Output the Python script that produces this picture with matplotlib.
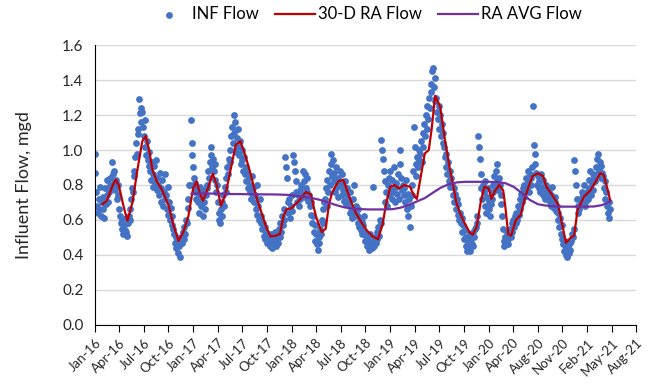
import pandas as pd
import matplotlib
matplotlib.use('Agg')
import matplotlib.pyplot as plt

plt.rcParams['font.family'] = ['Lato', 'DejaVu Sans']

start = pd.Timestamp('2016-01-01')

# influent flow, mgd (one reading every 3rd day, Jan 2016 - Apr 2021)
inf_flow = [
    0.98, 0.87, 0.76, 0.68, 0.64, 0.72, 0.66, 0.79, 0.62, 0.70,
    0.66, 0.73, 0.61, 0.78, 0.69, 0.74, 0.83, 0.70, 0.76, 0.80,
    0.84, 0.79, 0.93, 0.86, 0.81, 0.88, 0.77, 0.83, 0.72, 0.80,
    0.74, 0.66, 0.62, 0.58, 0.55, 0.60, 0.52, 0.57, 0.54, 0.61,
    0.53, 0.51, 0.58, 0.62, 0.66, 0.60, 0.72, 0.78, 0.76, 0.85,
    0.88, 0.96, 1.04, 0.98, 1.12, 1.09, 1.29, 1.21, 1.16, 1.24,
    1.22, 1.13, 1.08, 1.17, 1.02, 0.97, 1.05, 0.94, 0.99, 0.91,
    0.88, 0.83, 0.93, 0.79, 0.86, 0.91, 0.81, 0.94, 0.77, 0.84,
    0.80, 0.74, 0.87, 0.70, 0.78, 0.83, 0.68, 0.76, 0.86, 0.72,
    0.74, 0.66, 0.79, 0.63, 0.70, 0.60, 0.67, 0.57, 0.62, 0.55,
    0.52, 0.47, 0.50, 0.44, 0.48, 0.41, 0.45, 0.39, 0.46, 0.50,
    0.47, 0.53, 0.49, 0.56, 0.52, 0.60, 0.58, 0.67, 0.72, 0.80,
    0.80, 1.17, 1.04, 0.97, 0.90, 0.84, 0.76, 0.81, 0.72, 0.78,
    0.70, 0.75, 0.64, 0.79, 0.68, 0.73, 0.62, 0.77, 0.70, 0.66,
    0.74, 0.80, 0.78, 0.88, 0.84, 0.93, 0.97, 1.02, 0.90, 0.95,
    0.88, 0.92, 0.83, 0.76, 0.80, 0.70, 0.64, 0.60, 0.58, 0.66,
    0.62, 0.70, 0.74, 0.68, 0.79, 0.84, 0.76, 0.90, 0.86, 0.95,
    1.00, 0.93, 1.08, 1.13, 1.04, 1.20, 1.10, 1.16, 0.99, 1.07,
    1.12, 1.02, 0.97, 1.05, 0.92, 1.00, 0.94, 0.88, 0.96, 0.86,
    0.90, 0.82, 0.87, 0.78, 0.84, 0.76, 0.80, 0.72, 0.85, 0.74,
    0.78, 0.70, 0.74, 0.66, 0.80, 0.63, 0.68, 0.60, 0.72, 0.58,
    0.62, 0.55, 0.58, 0.51, 0.56, 0.49, 0.53, 0.47, 0.50, 0.46,
    0.48, 0.45, 0.52, 0.44, 0.47, 0.50, 0.46, 0.53, 0.45, 0.49,
    0.51, 0.47, 0.55, 0.50, 0.58, 0.53, 0.62, 0.57, 0.66, 0.60,
    0.96, 0.90, 0.84, 0.70, 0.64, 0.72, 0.61, 0.68, 0.74, 0.65,
    0.97, 0.93, 0.88, 0.82, 0.76, 0.70, 0.74, 0.68, 0.77, 0.72,
    0.80, 0.75, 0.88, 0.82, 0.73, 0.86, 0.78, 0.84, 0.76, 0.71,
    0.74, 0.68, 0.63, 0.70, 0.58, 0.62, 0.53, 0.57, 0.48, 0.52,
    0.46, 0.43, 0.50, 0.47, 0.55, 0.52, 0.60, 0.66, 0.58, 0.70,
    0.72, 0.78, 0.68, 0.83, 0.76, 0.88, 0.80, 0.92, 0.98, 0.85,
    0.94, 0.82, 0.87, 0.76, 0.90, 0.79, 0.84, 0.73, 0.81, 0.88,
    0.80, 0.74, 0.86, 0.77, 0.71, 0.82, 0.75, 0.69, 0.78, 0.72,
    0.70, 0.64, 0.76, 0.67, 0.61, 0.72, 0.65, 0.80, 0.62, 0.68,
    0.63, 0.58, 0.66, 0.56, 0.61, 0.54, 0.59, 0.52, 0.57, 0.62,
    0.53, 0.48, 0.51, 0.45, 0.50, 0.43, 0.47, 0.52, 0.46, 0.44,
    0.48, 0.79, 0.45, 0.50, 0.47, 0.53, 0.49, 0.56, 0.51, 0.60,
    0.58, 1.06, 1.00, 0.95, 0.88, 0.82, 0.70, 0.76, 0.68, 0.80,
    0.84, 0.74, 0.88, 0.78, 0.72, 0.83, 0.76, 0.90, 0.70, 0.79,
    0.81, 0.75, 0.86, 0.72, 0.92, 1.00, 0.84, 0.77, 0.80, 0.74,
    0.78, 0.70, 0.83, 0.66, 0.75, 0.62, 0.72, 0.56, 0.68, 0.74,
    0.80, 0.88, 1.13, 1.02, 0.92, 0.85, 0.96, 0.90, 1.00, 0.94,
    0.98, 1.05, 0.93, 1.10, 1.02, 1.15, 1.08, 1.20, 1.12, 1.25,
    1.18, 1.30, 1.24, 1.38, 1.33, 1.45, 1.47, 1.36, 1.41, 1.28,
    1.30, 1.22, 1.18, 1.25, 1.12, 1.20, 1.08, 1.15, 1.04, 1.10,
    1.02, 0.96, 0.90, 0.98, 0.86, 0.93, 0.82, 0.88, 0.79, 0.84,
    0.80, 0.74, 0.78, 0.70, 0.75, 0.66, 0.72, 0.63, 0.69, 0.60,
    0.64, 0.58, 0.61, 0.53, 0.57, 0.49, 0.54, 0.45, 0.50, 0.42,
    0.47, 0.44, 0.52, 0.42, 0.49, 0.46, 0.53, 0.45, 0.50, 0.55,
    0.56, 0.62, 0.58, 1.08, 1.02, 0.95, 0.86, 0.78, 0.72, 0.80,
    0.76, 0.68, 0.82, 0.64, 0.73, 0.78, 0.66, 0.71, 0.62, 0.69,
    0.72, 0.80, 0.76, 0.85, 0.79, 0.88, 0.82, 0.92, 0.77, 0.84,
    0.80, 0.74, 0.69, 0.62, 0.55, 0.48, 0.45, 0.50, 0.47, 0.53,
    0.49, 0.46, 0.52, 0.55, 0.50, 0.58, 0.53, 0.60, 0.56, 0.62,
    0.58, 0.64, 0.60, 0.68, 0.63, 0.72, 0.66, 0.75, 0.70, 0.78,
    0.73, 0.80, 0.76, 0.84, 0.78, 0.88, 0.82, 0.76, 0.86, 0.80,
    0.84, 0.90, 1.25, 1.03, 0.98, 0.92, 0.87, 0.80, 0.85, 0.78,
    0.82, 0.76, 0.86, 0.79, 0.74, 0.83, 0.77, 0.72, 0.80, 0.75,
    0.78, 0.72, 0.76, 0.70, 0.74, 0.68, 0.79, 0.71, 0.67, 0.73,
    0.70, 0.65, 0.68, 0.60, 0.64, 0.56, 0.61, 0.52, 0.57, 0.49,
    0.46, 0.42, 0.48, 0.40, 0.44, 0.39, 0.45, 0.41, 0.47, 0.43,
    0.48, 0.52, 0.50, 0.55, 0.94, 0.88, 0.80, 0.72, 0.64, 0.68,
    0.66, 0.72, 0.69, 0.76, 0.70, 0.74, 0.80, 0.68, 0.75, 0.71,
    0.76, 0.72, 0.83, 0.78, 0.88, 0.74, 0.81, 0.86, 0.77, 0.84,
    0.82, 0.90, 0.86, 0.95, 0.98, 0.88, 0.93, 0.84, 0.91, 0.87,
    0.85, 0.78, 0.82, 0.72, 0.76, 0.68, 0.64, 0.70, 0.61, 0.66,
]

# 30-day running average: days after Jan 1 2016, mgd
ra30_day = [30, 46, 69, 80, 91, 109, 124, 143, 161, 180, 193, 206, 218, 235,
            255, 280, 298, 317, 335, 354, 372, 385, 398, 409, 428, 446, 461,
            477, 495, 514, 533, 551, 569, 588, 613, 635, 650, 665, 684, 700,
            713, 724, 743, 772, 798, 817, 836, 858, 873, 885, 898, 920, 939,
            965, 983, 1002, 1028, 1050, 1070, 1087, 1102, 1117, 1132, 1150,
            1169, 1191, 1206, 1217, 1232, 1247, 1262, 1273, 1286, 1305, 1323,
            1342, 1354, 1366, 1380, 1398, 1416, 1428, 1443, 1458, 1472, 1488,
            1499, 1510, 1528, 1543, 1551, 1562, 1573, 1591, 1610, 1626, 1639,
            1654, 1675, 1694, 1706, 1725, 1750, 1768, 1780, 1799, 1811, 1824,
            1848, 1873, 1885, 1910, 1922, 1935, 1947]
ra30_flow = [0.69, 0.71, 0.80, 0.83, 0.80, 0.68, 0.595, 0.70, 0.88, 1.05, 1.08,
             1.00, 0.89, 0.82, 0.77, 0.68, 0.57, 0.48, 0.53, 0.62, 0.78, 0.82,
             0.75, 0.71, 0.78, 0.865, 0.80, 0.68, 0.75, 0.89, 1.03, 1.05, 0.97,
             0.87, 0.72, 0.62, 0.55, 0.505, 0.51, 0.52, 0.62, 0.66, 0.667, 0.71,
             0.76, 0.745, 0.62, 0.53, 0.55, 0.69, 0.76, 0.82, 0.83, 0.72, 0.65,
             0.60, 0.54, 0.505, 0.49, 0.57, 0.70, 0.79, 0.80, 0.78, 0.80, 0.79,
             0.74, 0.72, 0.85, 0.98, 1.00, 1.12, 1.31, 1.25, 1.06, 0.89, 0.80,
             0.70, 0.64, 0.58, 0.53, 0.515, 0.56, 0.70, 0.79, 0.78, 0.72, 0.76,
             0.80, 0.77, 0.68, 0.52, 0.51, 0.60, 0.63, 0.73, 0.79, 0.85, 0.867,
             0.85, 0.79, 0.75, 0.69, 0.56, 0.47, 0.50, 0.51, 0.657, 0.733, 0.77,
             0.80, 0.867, 0.86, 0.79, 0.714]

# long-term running average, monthly from Jan 2017
ra_avg_flow = [0.750, 0.752, 0.752, 0.750, 0.750, 0.748, 0.748, 0.747, 0.747, 0.746, 0.746, 0.745,
               0.743, 0.738, 0.732, 0.725, 0.715, 0.700, 0.685, 0.672, 0.665, 0.662, 0.660, 0.660,
               0.660, 0.662, 0.670, 0.685, 0.705, 0.725, 0.755, 0.785, 0.805, 0.815, 0.818, 0.818,
               0.818, 0.818, 0.817, 0.810, 0.790, 0.755, 0.715, 0.690, 0.682, 0.678, 0.676, 0.676,
               0.676, 0.676, 0.677, 0.685, 0.705]

inf_dates = pd.date_range(start, periods=len(inf_flow), freq='3D')
ra30_dates = start + pd.to_timedelta(ra30_day, unit='D')
ra_avg_dates = pd.date_range('2017-01-01', periods=len(ra_avg_flow), freq='MS')
tick_dates = pd.date_range(start, periods=23, freq='93D')

fig = plt.figure(figsize=(6.48, 3.89), dpi=100)
ax = fig.add_axes([0.146, 0.165, 0.836, 0.719])

ax.scatter(inf_dates, inf_flow, s=24, color='#4472C4', linewidths=0, label='INF Flow', zorder=2)
ax.plot(ra30_dates, ra30_flow, color='#C00000', lw=1.6, label='30-D RA Flow', zorder=3)
ax.plot(ra_avg_dates, ra_avg_flow, color='#7030A0', lw=1.6, label='RA AVG Flow', zorder=4)

ax.set_ylim(0, 1.6)
ax.set_yticks([0, 0.2, 0.4, 0.6, 0.8, 1.0, 1.2, 1.4, 1.6])
ax.set_yticklabels(['0.0', '0.2', '0.4', '0.6', '0.8', '1.0', '1.2', '1.4', '1.6'])
ax.set_xlim(tick_dates[0], tick_dates[-1])
ax.set_xticks(tick_dates)
ax.set_xticklabels([d.strftime('%b-%y') for d in tick_dates], rotation=45,
                   ha='right', rotation_mode='anchor')

ax.grid(axis='y', color='#D9D9D9', lw=1)
ax.set_axisbelow(True)
for side in ['top', 'right']:
    ax.spines[side].set_visible(False)
ax.spines['left'].set_color('black')
ax.spines['bottom'].set_color('black')
ax.tick_params(axis='y', length=0, labelsize=11, pad=8, labelcolor='#262626')
ax.tick_params(axis='x', length=5, labelsize=9.5, labelcolor='#262626')
ax.set_ylabel('Influent Flow, mgd', fontsize=13, color='#262626', labelpad=22)

ax.legend(loc='center', bbox_to_anchor=(0.5, 1.11), ncol=3, frameon=False,
          fontsize=12, handlelength=2.4, handletextpad=0.15, columnspacing=1.0,
          scatterpoints=1, borderaxespad=0)

fig.savefig('out.png', dpi=100)
